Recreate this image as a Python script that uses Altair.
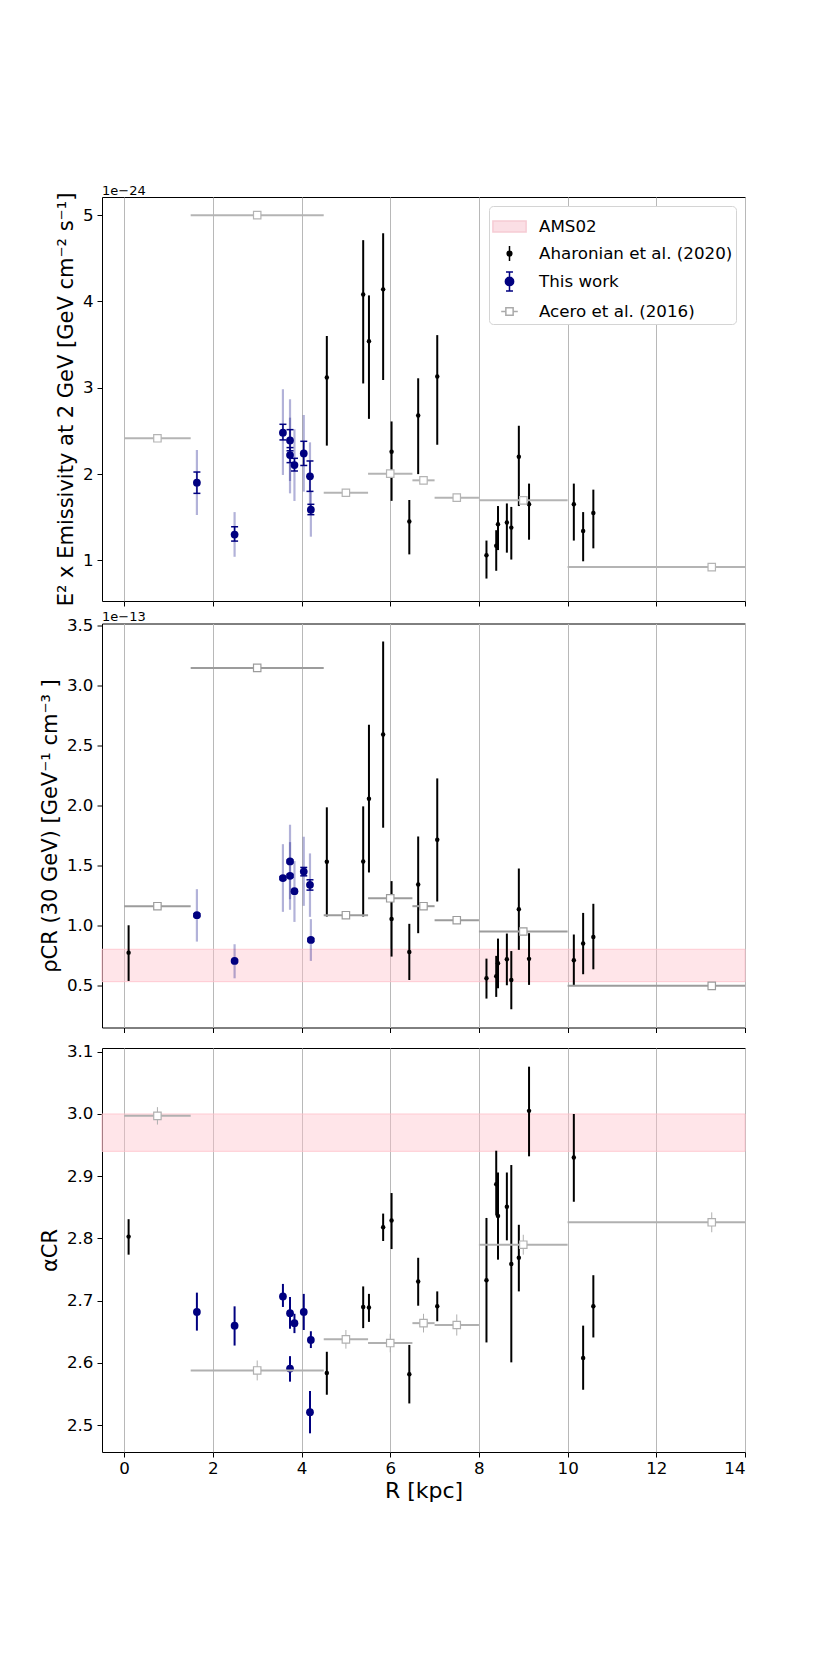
import altair as alt
import pandas as pd

FONT = "DejaVu Sans"

# ---------------- Aharonian et al. (2020) ----------------
AHA_R = [0.10, 4.57, 5.39, 5.52, 5.84, 6.03, 6.43, 6.63, 7.06, 8.17, 8.39, 8.43,
         8.63, 8.73, 8.90, 9.13, 10.14, 10.35, 10.58]
# emissivity (units of 1e-24), no value at R=0.1
AHA_EMI = [None, 3.12, 4.08, 3.54, 4.14, 2.26, 1.45, 2.68, 3.13, 1.06, 1.17, 1.42,
           1.44, 1.38, 2.20, 1.65, 1.65, 1.34, 1.55]
AHA_EMI_HI = [None, 3.60, 4.71, 4.07, 4.79, 2.61, 1.70, 3.11, 3.61, 1.23, 1.35, 1.63,
              1.66, 1.62, 2.56, 1.89, 1.89, 1.56, 1.82]
AHA_EMI_LO = [None, 2.33, 3.05, 2.64, 3.09, 1.69, 1.07, 2.00, 2.34, 0.79, 0.88, 1.12,
              1.09, 1.01, 1.63, 1.24, 1.23, 0.99, 1.14]
# rho_CR (units of 1e-13)
AHA_RHO = [0.777, 1.534, 1.537, 2.06, 2.594, 1.058, 0.783, 1.345, 1.718, 0.563, 0.58,
           0.688, 0.722, 0.549, 1.139, 0.725, 0.713, 0.853, 0.908]
AHA_RHO_HI = [1.005, 1.988, 1.996, 2.677, 3.37, 1.373, 1.017, 1.745, 2.229, 0.727, 0.75,
              0.894, 0.936, 0.79, 1.478, 0.939, 0.928, 1.108, 1.184]
AHA_RHO_LO = [0.541, 1.078, 1.078, 1.445, 1.818, 0.744, 0.549, 0.939, 1.203, 0.394, 0.408,
              0.48, 0.505, 0.305, 0.80, 0.508, 0.50, 0.597, 0.638]
# alpha_CR
AHA_ALP = [2.803, 2.584, 2.69, 2.689, 2.818, 2.829, 2.582, 2.731, 2.691, 2.733, 2.887,
           2.836, 2.851, 2.759, 2.769, 3.005, 2.93, 2.608, 2.691]
AHA_ALP_HI = [2.831, 2.618, 2.723, 2.711, 2.84, 2.873, 2.629, 2.769, 2.715, 2.833, 2.941,
              2.906, 2.906, 2.918, 2.822, 3.076, 3.0, 2.66, 2.741]
AHA_ALP_LO = [2.774, 2.549, 2.656, 2.666, 2.796, 2.783, 2.535, 2.692, 2.667, 2.633, 2.837,
              2.766, 2.797, 2.601, 2.715, 2.932, 2.859, 2.557, 2.641]

# ---------------- This work ----------------
TW_R = [1.64, 2.49, 3.58, 3.74, 3.74, 3.84, 4.05, 4.19, 4.21]
TW_EMI = [1.90, 1.30, 2.48, 2.39, 2.22, 2.105, 2.24, 1.975, 1.588]
TW_EMI_STAT_LO = [1.777, 1.224, 2.396, 2.27, 2.133, 2.036, 2.10, 1.80, 1.53]
TW_EMI_STAT_HI = [2.024, 1.39, 2.577, 2.515, 2.307, 2.183, 2.38, 2.152, 1.65]
TW_EMI_SYS_LO = [1.526, 1.042, 1.99, 1.92, 1.777, 1.689, 1.797, 1.57, 1.275]
TW_EMI_SYS_HI = [2.279, 1.56, 2.983, 2.867, 2.654, 2.519, 2.685, 2.368, 1.80]

TW_RHO = [1.089, 0.708, 1.398, 1.537, 1.417, 1.289, 1.453, 1.342, 0.883]
TW_RHO_STAT_LO = [1.077, 0.698, 1.386, 1.525, 1.405, 1.277, 1.417, 1.298, 0.871]
TW_RHO_STAT_HI = [1.101, 0.718, 1.41, 1.549, 1.429, 1.301, 1.487, 1.384, 0.895]
TW_RHO_SYS_LO = [0.869, 0.563, 1.117, 1.222, 1.134, 1.033, 1.167, 1.075, 0.708]
TW_RHO_SYS_HI = [1.306, 0.847, 1.681, 1.843, 1.698, 1.54, 1.743, 1.604, 1.056]

TW_ALP = [2.682, 2.66, 2.707, 2.68, 2.591, 2.664, 2.682, 2.521, 2.637]
TW_ALP_LO = [2.652, 2.628, 2.69, 2.655, 2.57, 2.648, 2.653, 2.487, 2.624]
TW_ALP_HI = [2.713, 2.691, 2.727, 2.706, 2.611, 2.679, 2.711, 2.555, 2.651]

# ---------------- Acero et al. (2016) ----------------
AC_R = [0.75, 3.0, 5.0, 6.0, 6.75, 7.5, 9.0, 13.25]
AC_RLO = [0.0, 1.5, 4.5, 5.5, 6.5, 7.0, 8.0, 10.0]
AC_RHI = [1.5, 4.5, 5.5, 6.5, 7.0, 8.0, 10.0, 16.5]
AC_EMI = [2.415, 5.0, 1.784, 2.005, 1.928, 1.727, 1.696, 0.923]
AC_RHO = [1.164, 3.15, 1.089, 1.23, 1.164, 1.047, 0.953, 0.50]
AC_ALP = [2.997, 2.588, 2.638, 2.632, 2.664, 2.661, 2.79, 2.826]
AC_ALP_ERR = [0.014, 0.016, 0.015, 0.015, 0.015, 0.017, 0.016, 0.016]

# ---------------- AMS02 bands ----------------
AMS_RHO = [0.535, 0.805]
AMS_ALP = [2.94, 3.00]

# ---------------- legend ----------------
LEG_NAMES = ["AMS02", "Aharonian et al. (2020)", "This work", "Acero et al. (2016)"]
LEG_FILL = ["#fbdfe5", "black", "navy", "white"]
LEG_STROKE = ["#f6cbd4", "black", "navy", "#aaaaaa"]
LEG_SHAPE = [
    "M-1,-0.33H1V0.33H-1Z",
    "M0,-0.45V0.45M0.14,0A0.14,0.14 0 1 1 -0.14,0A0.14,0.14 0 1 1 0.14,0Z",
    "M0,-0.57V0.57M-0.21,-0.57H0.21M-0.21,0.57H0.21M0.25,0A0.25,0.25 0 1 1 -0.25,0A0.25,0.25 0 1 1 0.25,0Z",
    "M-0.5,0H-0.22M0.22,0H0.5M-0.22,-0.22H0.22V0.22H-0.22Z",
]

W, H = 643, 404
XSCALE = alt.Scale(domain=[-0.5, 14], nice=False, zero=False)
XTICKS = [0, 2, 4, 6, 8, 10, 12, 14]


def x_axis(labels):
    return alt.Axis(values=XTICKS, grid=True, gridColor="#b8b8b8", gridWidth=1,
                    labels=labels, ticks=True, tickSize=5, tickWidth=1,
                    tickColor="black", domain=False, labelFontSize=16.7,
                    labelPadding=3, labelColor="black", labelFont=FONT,
                    title="R [kpc]" if labels else None, titleFontSize=22,
                    titleFont=FONT, titleFontWeight="normal", titleColor="black",
                    titlePadding=4, format="d")


def y_axis(values, fmt, title):
    return alt.Axis(values=values, format=fmt, grid=False, ticks=True, tickSize=5,
                    tickWidth=1, tickColor="black", domain=False, labelFontSize=16.7,
                    labelPadding=4, labelColor="black", labelFont=FONT, title=title,
                    titleFontSize=21, titleFont=FONT, titleFontWeight="normal",
                    titleColor="black", titlePadding=6)


def frame(cols):
    df = pd.DataFrame(cols)
    return df.dropna().reset_index(drop=True)


def panel(ydom, yax, xax, aha, tw, ac, band, ac_color, light, ac_yerr, title,
          title_color="black", with_legend=False):
    ys = alt.Scale(domain=ydom, nice=False, zero=False)

    def X(f):
        return alt.X(f"{f}:Q", scale=XSCALE, axis=xax)

    def Y(f):
        return alt.Y(f"{f}:Q", scale=ys, axis=yax)

    layers = []
    if band is not None:
        layers.append(
            alt.Chart(band).mark_rect(fill="pink", fillOpacity=0.42, stroke="pink",
                                      strokeOpacity=0.8, strokeWidth=1)
            .encode(y=Y("lo"), y2="hi"))
    # Aharonian
    a = alt.Chart(aha)
    layers.append(a.mark_rule(color="black", strokeWidth=2, clip=True)
                  .encode(x=X("R"), y=Y("lo"), y2="hi"))
    layers.append(a.mark_point(filled=True, color="black", size=20, opacity=1)
                  .encode(x=X("R"), y=Y("v")))
    # This work
    t = alt.Chart(tw)
    if light:
        layers.append(t.mark_rule(color="navy", opacity=0.3, strokeWidth=2.2)
                      .encode(x=X("R"), y=Y("slo"), y2="shi"))
        layers.append(t.mark_rule(color="navy", strokeWidth=1.5)
                      .encode(x=X("R"), y=Y("lo"), y2="hi"))
        layers.append(t.mark_tick(color="navy", orient="horizontal", size=7,
                                  thickness=1.5, opacity=1)
                      .encode(x=X("R"), y=Y("lo")))
        layers.append(t.mark_tick(color="navy", orient="horizontal", size=7,
                                  thickness=1.5, opacity=1)
                      .encode(x=X("R"), y=Y("hi")))
    else:
        layers.append(t.mark_rule(color="navy", strokeWidth=2)
                      .encode(x=X("R"), y=Y("lo"), y2="hi"))
    layers.append(t.mark_point(filled=True, color="navy", size=60, opacity=1)
                  .encode(x=X("R"), y=Y("v")))
    # Acero
    c = alt.Chart(ac)
    layers.append(c.mark_rule(color=ac_color, strokeWidth=2, clip=True)
                  .encode(x=X("rlo"), x2="rhi", y=Y("v")))
    if ac_yerr:
        layers.append(c.mark_rule(color=ac_color, strokeWidth=1, clip=True)
                      .encode(x=X("R"), y=Y("lo"), y2="hi"))
    layers.append(c.mark_point(shape="square", fill="white", fillOpacity=1,
                               stroke=ac_color, strokeWidth=1.2, size=55, opacity=1)
                  .encode(x=X("R"), y=Y("v")))
    if with_legend:
        leg = alt.Legend(title=None, orient="top-right", offset=9, padding=3,
                         cornerRadius=4, strokeColor="#d4d4d4", fillColor="white",
                         labelFont=FONT, labelFontSize=16.7, labelColor="black",
                         symbolSize=1100, symbolStrokeWidth=1.5, symbolOpacity=1,
                         labelOffset=12, labelLimit=400, rowPadding=-4.5)
        ld = pd.DataFrame({"series": LEG_NAMES})
        layers.append(
            alt.Chart(ld).transform_filter("false")
            .mark_point(opacity=1, filled=True)
            .encode(
                x=X("R"), y=Y("v"),
                fill=alt.Fill("series:N", scale=alt.Scale(domain=LEG_NAMES, range=LEG_FILL), legend=leg),
                stroke=alt.Stroke("series:N", scale=alt.Scale(domain=LEG_NAMES, range=LEG_STROKE), legend=leg),
                shape=alt.Shape("series:N", scale=alt.Scale(domain=LEG_NAMES, range=LEG_SHAPE), legend=leg),
            ))
    return alt.layer(*layers).properties(
        width=W, height=H,
        title=alt.TitleParams(title, anchor="start", frame="group", fontSize=13,
                              font=FONT, fontWeight="normal", color=title_color,
                              offset=-6))


aha_top = frame({"R": AHA_R, "v": AHA_EMI, "lo": AHA_EMI_LO, "hi": AHA_EMI_HI})
aha_mid = frame({"R": AHA_R, "v": AHA_RHO, "lo": AHA_RHO_LO, "hi": AHA_RHO_HI})
aha_bot = frame({"R": AHA_R, "v": AHA_ALP, "lo": AHA_ALP_LO, "hi": AHA_ALP_HI})

tw_top = frame({"R": TW_R, "v": TW_EMI, "lo": TW_EMI_STAT_LO, "hi": TW_EMI_STAT_HI,
                "slo": TW_EMI_SYS_LO, "shi": TW_EMI_SYS_HI})
tw_mid = frame({"R": TW_R, "v": TW_RHO, "lo": TW_RHO_STAT_LO, "hi": TW_RHO_STAT_HI,
                "slo": TW_RHO_SYS_LO, "shi": TW_RHO_SYS_HI})
tw_bot = frame({"R": TW_R, "v": TW_ALP, "lo": TW_ALP_LO, "hi": TW_ALP_HI})

ac_top = frame({"R": AC_R, "rlo": AC_RLO, "rhi": AC_RHI, "v": AC_EMI})
ac_mid = frame({"R": AC_R, "rlo": AC_RLO, "rhi": AC_RHI, "v": AC_RHO})
ac_bot = frame({"R": AC_R, "rlo": AC_RLO, "rhi": AC_RHI, "v": AC_ALP,
                "lo": [v - e for v, e in zip(AC_ALP, AC_ALP_ERR)],
                "hi": [v + e for v, e in zip(AC_ALP, AC_ALP_ERR)]})

band_mid = pd.DataFrame({"lo": [AMS_RHO[0]], "hi": [AMS_RHO[1]]})
band_bot = pd.DataFrame({"lo": [AMS_ALP[0]], "hi": [AMS_ALP[1]]})

top = panel([0.53, 5.21],
            y_axis([1, 2, 3, 4, 5], "d", "E² x Emissivity at 2 GeV [GeV cm⁻² s⁻¹]"),
            x_axis(False), aha_top, tw_top, ac_top, None, "#b4b4b4", True, False,
            "1e\u221224", with_legend=True)
mid = panel([0.153, 3.52],
            y_axis([0.5, 1.0, 1.5, 2.0, 2.5, 3.0, 3.5], ".1f", "ρCR (30 GeV) [GeV⁻¹ cm⁻³ ]"),
            x_axis(False), aha_mid, tw_mid, ac_mid, band_mid, "#9c9c9c", True, False,
            "1e\u221213")
# invisible spacer title keeps the gap between panels equal
bot = panel([2.457, 3.106],
            y_axis([2.5, 2.6, 2.7, 2.8, 2.9, 3.0, 3.1], ".1f", "αCR"),
            x_axis(True), aha_bot, tw_bot, ac_bot, band_bot, "#b0b0b0", False, True,
            "1e\u221213", title_color="white")

chart = alt.vconcat(top, mid, bot, spacing=2.5).resolve_scale(
    x="independent", y="independent", fill="independent", stroke="independent",
    shape="independent"
).properties(
    padding={"left": 30, "top": 176, "right": 10, "bottom": 20},
    background="white",
).configure_view(stroke="black", strokeWidth=1).configure_title(font=FONT)

chart.save("out.html", embed_options={"renderer": "svg", "actions": False})
